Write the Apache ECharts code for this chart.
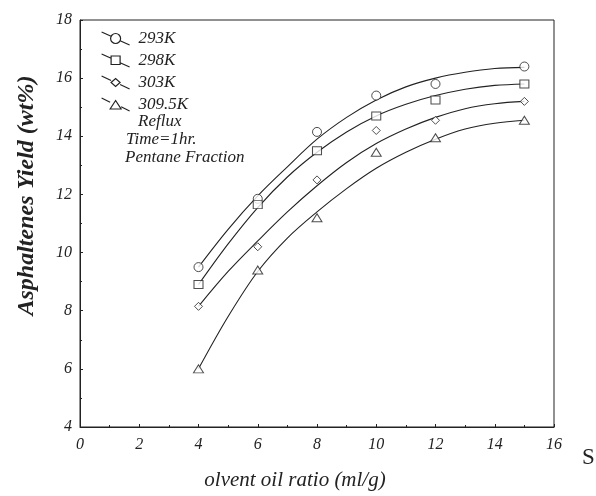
<!DOCTYPE html>
<html>
<head>
<meta charset="utf-8">
<script src="https://cdn.jsdelivr.net/npm/echarts@6/dist/echarts.min.js"></script>
<style>
  html, body { margin: 0; padding: 0; background: #fff; }
  #chart { width: 596px; height: 496px; }
</style>
</head>
<body>
<div id="chart"></div>
<script>
// Measured solvent/oil ratios and asphaltene yields per temperature
const ratios = [4, 6, 8, 10, 12, 15];
const yield293 = [9.5, 11.85, 14.15, 15.4, 15.8, 16.4];
const yield298 = [8.9, 11.65, 13.5, 14.7, 15.25, 15.8];
const yield303 = [8.15, 10.2, 12.5, 14.2, 14.55, 15.2];
const yield309 = [6.0, 9.4, 11.2, 13.45, 13.95, 14.55];

// Fitted trend curves, sampled along the ratio axis
const fitRatios = [4, 5, 6, 7, 8, 9, 10, 11, 12, 13, 14, 15];
const fit293 = [9.5, 10.8, 11.95, 12.95, 13.9, 14.65, 15.25, 15.7, 16.0, 16.2, 16.33, 16.37];
const fit298 = [8.9, 10.3, 11.55, 12.6, 13.45, 14.15, 14.7, 15.1, 15.4, 15.62, 15.75, 15.8];
const fit303 = [8.15, 9.35, 10.4, 11.4, 12.3, 13.1, 13.75, 14.25, 14.65, 14.95, 15.12, 15.2];
const fit309 = [6.0, 7.8, 9.35, 10.5, 11.4, 12.2, 12.9, 13.45, 13.9, 14.25, 14.45, 14.55];

const seriesNames = ['293K', '298K', '303K', '309.5K'];
const xTicks = [0, 2, 4, 6, 8, 10, 12, 14, 16];
const yTicks = [4, 6, 8, 10, 12, 14, 16, 18];

const ink = '#222';
const serif = '"Liberation Serif", "DejaVu Serif", serif';

const measured = [yield293, yield298, yield303, yield309];
const fits = [fit293, fit298, fit303, fit309];
const markers = ['circle', 'rect', 'diamond', 'triangle'];
const markerSizes = [9, [9, 8], [8, 8], [10, 8]];

// Legend glyphs: a slanted line broken by the marker outline
const legendIcons = [
  'path://M0,0 L9.5,4.3 M18.5,8.7 L28,13 M19,6.5 A5,5 0 1 1 9,6.5 A5,5 0 1 1 19,6.5 Z',
  'path://M0,0 L9.5,4.3 M18.5,8.7 L28,13 M9.5,2 L18.5,2 L18.5,10.5 L9.5,10.5 Z',
  'path://M0,0 L9.5,4.5 M18.5,8.5 L28,13 M9.5,6.5 L14,2.5 L18.5,6.5 L14,10.5 Z',
  'path://M0,0 L8.5,4.2 M19.5,8.8 L28,13 M8.5,11 L14,2.5 L19.5,11 Z'
];

function pairs(xs, ys) { return xs.map((x, i) => [x, ys[i]]); }

const series = [];
seriesNames.forEach((name, k) => {
  series.push({
    name: name,
    type: 'line',
    data: pairs(fitRatios, fits[k]),
    smooth: 0.35,
    showSymbol: false,
    lineStyle: { color: ink, width: 1.1 },
    z: 2,
    silent: true
  });
  series.push({
    name: name,
    type: 'scatter',
    data: pairs(ratios, measured[k]),
    symbol: markers[k],
    symbolSize: markerSizes[k],
    itemStyle: { color: '#fff', borderColor: ink, borderWidth: 1 },
    z: 3
  });
});

const chart = echarts.init(document.getElementById('chart'), null, { renderer: 'canvas' });
chart.setOption({
  animation: false,
  backgroundColor: '#fff',
  grid: {
    left: 80, top: 20, right: 42, bottom: 69,
    outerBoundsMode: 'none',
    containLabel: false,
    show: true, borderColor: ink, borderWidth: 1, backgroundColor: 'transparent'
  },
  legend: {
    orient: 'vertical',
    left: 96,
    top: 25,
    itemWidth: 28,
    itemHeight: 13,
    itemGap: 5,
    selectedMode: false,
    data: seriesNames.map((n, k) => ({ name: n, icon: legendIcons[k] })),
    itemStyle: { color: '#fff', borderColor: ink, borderWidth: 1.2 },
    textStyle: { fontFamily: serif, fontStyle: 'italic', fontSize: 17, color: ink, padding: [0, 0, 0, 4] }
  },
  xAxis: {
    type: 'value',
    min: xTicks[0],
    max: xTicks[xTicks.length - 1],
    interval: 2,
    name: 'olvent oil ratio (ml/g)',
    nameLocation: 'middle',
    nameGap: 43,
    nameTextStyle: { fontFamily: serif, fontStyle: 'italic', fontSize: 21, color: ink, padding: [0, 44, 0, 0] },
    axisLine: { lineStyle: { color: ink, width: 1 } },
    axisTick: { inside: true, length: 3, lineStyle: { color: ink } },
    minorTick: { show: true, splitNumber: 2, length: 2, lineStyle: { color: ink } },
    splitLine: { show: false },
    axisLabel: { fontFamily: serif, fontStyle: 'italic', fontSize: 16, color: ink, margin: 10 }
  },
  yAxis: {
    type: 'value',
    min: yTicks[0],
    max: yTicks[yTicks.length - 1],
    interval: 2,
    name: 'Asphaltenes Yield (wt%)',
    nameLocation: 'middle',
    nameGap: 41,
    nameRotate: 90,
    nameTextStyle: { fontFamily: serif, fontStyle: 'italic', fontWeight: 'bold', fontSize: 24, color: ink, padding: [0, 0, 0, 56] },
    axisLine: { lineStyle: { color: ink, width: 1 } },
    axisTick: { inside: true, length: 3, lineStyle: { color: ink } },
    minorTick: { show: true, splitNumber: 2, length: 2, lineStyle: { color: ink } },
    splitLine: { show: false },
    axisLabel: { fontFamily: serif, fontStyle: 'italic', fontSize: 16, color: ink, margin: 8 }
  },
  graphic: [
    { type: 'text', left: 138, top: 113, style: { text: 'Reflux', font: 'italic 17px ' + serif, fill: ink } },
    { type: 'text', left: 126, top: 131, style: { text: 'Time=1hr.', font: 'italic 17px ' + serif, fill: ink } },
    { type: 'text', left: 125, top: 149, style: { text: 'Pentane Fraction', font: 'italic 17px ' + serif, fill: ink } },
    { type: 'text', left: 582, top: 446, style: { text: 'S', font: '23px ' + serif, fill: ink } }
  ],
  series: series
});
</script>
</body>
</html>
